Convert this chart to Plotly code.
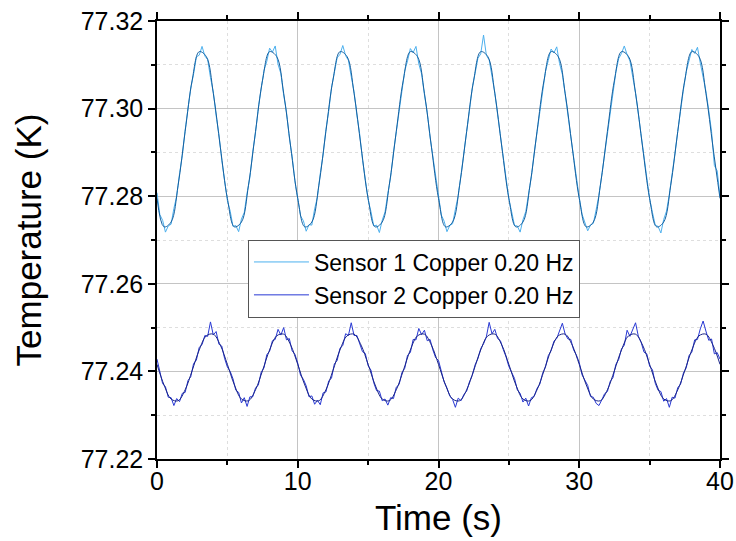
import numpy as np
import plotly.graph_objects as go

# Sampling times (s) for the raw sensor records and for the fitted curves
time_raw = np.round(np.arange(0, 40.0001, 0.2), 1)
time_fit = np.round(np.arange(0, 40.0001, 0.5), 1)

# Sensor 1 (Copper, 0.20 Hz) raw temperature (K)
sensor1_raw = [
    77.2808, 77.2758, 77.2745, 77.2718, 77.2732, 77.2736, 77.2772, 77.2800, 77.2851, 77.2893,
    77.2951, 77.2995, 77.3047, 77.3079, 77.3118, 77.3122, 77.3142, 77.3120, 77.3112, 77.3071,
    77.3038, 77.2984, 77.2941, 77.2883, 77.2842,
    77.2790, 77.2766, 77.2731, 77.2733, 77.2719, 77.2748, 77.2763, 77.2807, 77.2843, 77.2901,
    77.2945, 77.3002, 77.3040, 77.3087, 77.3108, 77.3138, 77.3129, 77.3143, 77.3101, 77.3080,
    77.3031, 77.2992, 77.2934, 77.2891, 77.2834,
    77.2799, 77.2755, 77.2744, 77.2720, 77.2735, 77.2734, 77.2771, 77.2798, 77.2852, 77.2894,
    77.2952, 77.2994, 77.3048, 77.3080, 77.3116, 77.3124, 77.3144, 77.3121, 77.3110, 77.3073,
    77.3039, 77.2985, 77.2942, 77.2884, 77.2841,
    77.2792, 77.2765, 77.2732, 77.2734, 77.2717, 77.2745, 77.2764, 77.2806, 77.2844, 77.2900,
    77.2946, 77.3001, 77.3041, 77.3086, 77.3109, 77.3137, 77.3128, 77.3142, 77.3102, 77.3079,
    77.3032, 77.2991, 77.2935, 77.2890, 77.2835,
    77.2798, 77.2757, 77.2743, 77.2719, 77.2733, 77.2737, 77.2770, 77.2801, 77.2849, 77.2895,
    77.2950, 77.2996, 77.3046, 77.3082, 77.3115, 77.3125, 77.3168, 77.3122, 77.3111, 77.3074,
    77.3037, 77.2986, 77.2940, 77.2885, 77.2840,
    77.2793, 77.2764, 77.2733, 77.2732, 77.2718, 77.2746, 77.2765, 77.2805, 77.2845, 77.2899,
    77.2947, 77.3000, 77.3042, 77.3085, 77.3110, 77.3136, 77.3127, 77.3141, 77.3103, 77.3078,
    77.3033, 77.2990, 77.2936, 77.2889, 77.2836,
    77.2797, 77.2759, 77.2742, 77.2721, 77.2734, 77.2738, 77.2769, 77.2802, 77.2848, 77.2896,
    77.2949, 77.2997, 77.3045, 77.3083, 77.3114, 77.3126, 77.3143, 77.3123, 77.3109, 77.3075,
    77.3036, 77.2987, 77.2939, 77.2886, 77.2839,
    77.2794, 77.2763, 77.2734, 77.2731, 77.2716, 77.2747, 77.2766, 77.2804, 77.2846, 77.2898,
    77.2948, 77.2999, 77.3043, 77.3084, 77.3111, 77.3135, 77.3126, 77.3140, 77.3104, 77.3072,
    77.3040, 77.2996, 77.2948, 77.2870, 77.2858,
    77.2800,
]

# Sensor 2 (Copper, 0.20 Hz) raw temperature (K)
sensor2_raw = [
    77.2428, 77.2402, 77.2372, 77.2365, 77.2341, 77.2340, 77.2322, 77.2338, 77.2331, 77.2350,
    77.2352, 77.2379, 77.2388, 77.2418, 77.2426, 77.2455, 77.2461, 77.2482, 77.2480, 77.2513,
    77.2483, 77.2491, 77.2462, 77.2458, 77.2430,
    77.2410, 77.2400, 77.2383, 77.2357, 77.2352, 77.2328, 77.2340, 77.2320, 77.2342, 77.2342,
    77.2362, 77.2369, 77.2398, 77.2408, 77.2438, 77.2446, 77.2470, 77.2473, 77.2496, 77.2483,
    77.2500, 77.2472, 77.2475, 77.2447, 77.2439,
    77.2419, 77.2391, 77.2382, 77.2367, 77.2342, 77.2344, 77.2325, 77.2334, 77.2324, 77.2351,
    77.2353, 77.2378, 77.2385, 77.2417, 77.2425, 77.2453, 77.2459, 77.2486, 77.2482, 77.2511,
    77.2482, 77.2482, 77.2465, 77.2445, 77.2441,
    77.2413, 77.2403, 77.2374, 77.2356, 77.2355, 77.2333, 77.2337, 77.2323, 77.2340, 77.2338,
    77.2364, 77.2370, 77.2397, 77.2407, 77.2437, 77.2443, 77.2473, 77.2472, 77.2498, 77.2484,
    77.2494, 77.2470, 77.2473, 77.2449, 77.2431,
    77.2425, 77.2398, 77.2376, 77.2362, 77.2344, 77.2336, 77.2318, 77.2339, 77.2333, 77.2347,
    77.2355, 77.2376, 77.2391, 77.2415, 77.2429, 77.2452, 77.2463, 77.2479, 77.2512, 77.2486,
    77.2496, 77.2475, 77.2470, 77.2450, 77.2433,
    77.2411, 77.2399, 77.2384, 77.2358, 77.2350, 77.2330, 77.2339, 77.2321, 77.2340, 77.2343,
    77.2361, 77.2371, 77.2396, 77.2410, 77.2436, 77.2447, 77.2469, 77.2475, 77.2495, 77.2510,
    77.2485, 77.2474, 77.2473, 77.2449, 77.2437,
    77.2420, 77.2392, 77.2380, 77.2368, 77.2343, 77.2341, 77.2327, 77.2322, 77.2335, 77.2349,
    77.2354, 77.2377, 77.2386, 77.2416, 77.2427, 77.2451, 77.2460, 77.2494, 77.2480, 77.2498,
    77.2511, 77.2480, 77.2466, 77.2444, 77.2440,
    77.2412, 77.2404, 77.2373, 77.2357, 77.2354, 77.2332, 77.2338, 77.2318, 77.2341, 77.2339,
    77.2363, 77.2371, 77.2396, 77.2408, 77.2436, 77.2444, 77.2472, 77.2473, 77.2497, 77.2515,
    77.2492, 77.2471, 77.2474, 77.2440, 77.2443,
    77.2428,
]

# Fitted sine curves (K) at 0.5 s steps
sensor1_fit = [
    77.2795, 77.2730, 77.2741, 77.2825, 77.2948, 77.3065, 77.3130, 77.3119, 77.3035, 77.2912,
    77.2795, 77.2730, 77.2741, 77.2825, 77.2948, 77.3065, 77.3130, 77.3119, 77.3035, 77.2912,
    77.2795, 77.2730, 77.2741, 77.2825, 77.2948, 77.3065, 77.3130, 77.3119, 77.3035, 77.2912,
    77.2795, 77.2730, 77.2741, 77.2825, 77.2948, 77.3065, 77.3130, 77.3119, 77.3035, 77.2912,
    77.2795, 77.2730, 77.2741, 77.2825, 77.2948, 77.3065, 77.3130, 77.3119, 77.3035, 77.2912,
    77.2795, 77.2730, 77.2741, 77.2825, 77.2948, 77.3065, 77.3130, 77.3119, 77.3035, 77.2912,
    77.2795, 77.2730, 77.2741, 77.2825, 77.2948, 77.3065, 77.3130, 77.3119, 77.3035, 77.2912,
    77.2795, 77.2730, 77.2741, 77.2825, 77.2948, 77.3065, 77.3130, 77.3119, 77.3035, 77.2912,
    77.2795,
]
sensor2_fit = [
    77.2416, 77.2369, 77.2337, 77.2333, 77.2358, 77.2402, 77.2449, 77.2481, 77.2485, 77.2460,
    77.2416, 77.2369, 77.2337, 77.2333, 77.2358, 77.2402, 77.2449, 77.2481, 77.2485, 77.2460,
    77.2416, 77.2369, 77.2337, 77.2333, 77.2358, 77.2402, 77.2449, 77.2481, 77.2485, 77.2460,
    77.2416, 77.2369, 77.2337, 77.2333, 77.2358, 77.2402, 77.2449, 77.2481, 77.2485, 77.2460,
    77.2416, 77.2369, 77.2337, 77.2333, 77.2358, 77.2402, 77.2449, 77.2481, 77.2485, 77.2460,
    77.2416, 77.2369, 77.2337, 77.2333, 77.2358, 77.2402, 77.2449, 77.2481, 77.2485, 77.2460,
    77.2416, 77.2369, 77.2337, 77.2333, 77.2358, 77.2402, 77.2449, 77.2481, 77.2485, 77.2460,
    77.2416, 77.2369, 77.2337, 77.2333, 77.2358, 77.2402, 77.2449, 77.2481, 77.2485, 77.2460,
    77.2416,
]

series_names = ["Sensor 1 Copper 0.20 Hz", "Sensor 2 Copper 0.20 Hz"]
x_tick_values = [0, 10, 20, 30, 40]
y_tick_values = [77.22, 77.24, 77.26, 77.28, 77.30, 77.32]

FONT = "Liberation Sans, Arial, sans-serif"

fig = go.Figure()
fig.add_trace(go.Scatter(x=time_raw, y=sensor1_raw, mode="lines", name=series_names[0],
                         line=dict(color="#4cb0ee", width=1)))
fig.add_trace(go.Scatter(x=time_raw, y=sensor2_raw, mode="lines", name=series_names[1],
                         line=dict(color="#2838d4", width=1)))
fig.add_trace(go.Scatter(x=time_fit, y=sensor1_fit, mode="lines", showlegend=False,
                         line=dict(color="#16609f", width=1, shape="spline")))
fig.add_trace(go.Scatter(x=time_fit, y=sensor2_fit, mode="lines", showlegend=False,
                         line=dict(color="#1a2588", width=1, shape="spline")))

axis_common = dict(
    showline=True, linecolor="black", linewidth=1.5, mirror="ticks",
    ticks="outside", ticklen=7, tickwidth=1.5, tickcolor="black",
    showgrid=True, gridcolor="#c4c4c4", gridwidth=1,
    zeroline=False, automargin=False, ticklabeloverflow="allow",
    tickfont=dict(family=FONT, size=25, color="black"),
)

fig.update_xaxes(
    range=[0, 40], tickvals=x_tick_values, ticklabelstandoff=-8,
    title=dict(text="Time (s)", font=dict(family=FONT, size=35, color="black"), standoff=12),
    minor=dict(dtick=5, tick0=0, ticks="outside", ticklen=4, tickwidth=1.5, tickcolor="black",
               showgrid=True, gridcolor="#dedede", griddash="dot", gridwidth=1),
    **axis_common,
)
fig.update_yaxes(
    range=[77.22, 77.32], tickvals=y_tick_values, tickformat=".2f",
    title=dict(text="Temperature (K)", font=dict(family=FONT, size=35, color="black"), standoff=28),
    minor=dict(dtick=0.01, tick0=77.22, ticks="outside", ticklen=4, tickwidth=1.5, tickcolor="black",
               showgrid=True, gridcolor="#dedede", griddash="dot", gridwidth=1),
    **axis_common,
)

fig.update_layout(
    width=736, height=541,
    margin=dict(l=157, r=16, t=21, b=82, autoexpand=False),
    paper_bgcolor="white", plot_bgcolor="white",
    font=dict(family=FONT, color="black"),
    showlegend=True,
    legend=dict(
        x=0.1616, y=0.4121, xanchor="left", yanchor="middle",
        bgcolor="white", bordercolor="#555555", borderwidth=1,
        font=dict(family=FONT, size=23, color="black"),
        itemwidth=55, tracegroupgap=0,
    ),
)

# Remove the browser's default page margin so the 736x541 figure fills the window exactly.
fig.write_html(
    "out.html",
    config={"displayModeBar": False},
    post_script="document.body.style.margin='0';document.body.style.overflow='hidden';",
)
